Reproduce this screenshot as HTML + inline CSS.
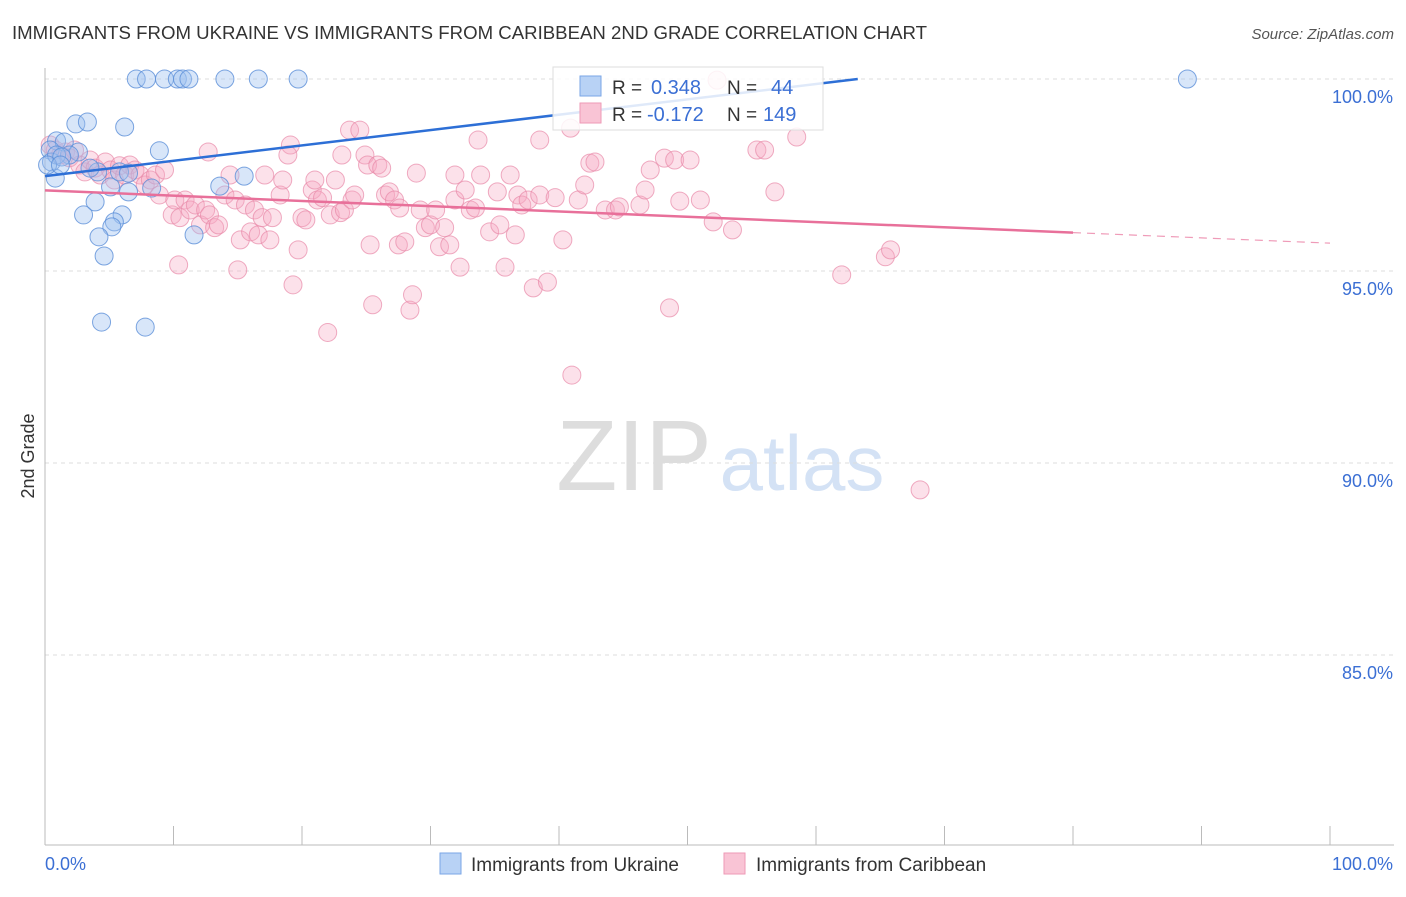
<!DOCTYPE html>
<html><head><meta charset="utf-8"><style>
body{margin:0;background:#fff;font-family:"Liberation Sans",sans-serif;}
svg text{font-family:"Liberation Sans",sans-serif;}
</style></head><body>
<svg width="1406" height="892" viewBox="0 0 1406 892" xmlns="http://www.w3.org/2000/svg" id="chart">
<text x="12" y="39" font-size="18" fill="#333" textLength="915" lengthAdjust="spacingAndGlyphs">IMMIGRANTS FROM UKRAINE VS IMMIGRANTS FROM CARIBBEAN 2ND GRADE CORRELATION CHART</text>
<text x="1394" y="39" font-size="15" fill="#555" text-anchor="end" font-style="italic">Source: ZipAtlas.com</text>
<text x="34" y="456" font-size="18" fill="#333" text-anchor="middle" transform="rotate(-90 34 456)">2nd Grade</text>
<g>
<text x="634" y="490" font-size="100" fill="#ddd" text-anchor="middle" font-family="Liberation Serif">ZIP</text>
<text x="802" y="490" font-size="78" fill="#d4e2f5" text-anchor="middle">atlas</text>
</g>
<g id="grid"></g><g id="axes"></g><g id="pts"></g><g id="lines"></g>
<g>
<rect x="553" y="67" width="270" height="63" fill="#fff" fill-opacity="0.85" stroke="#ddd"/>
<rect x="580" y="76" width="21" height="20" fill="#b8d2f5" stroke="#7aa6e6"/>
<rect x="580" y="103" width="21" height="20" fill="#f9c4d5" stroke="#ee9ab6"/>
<text x="612" y="94" font-size="19" fill="#333">R =</text>
<text x="651" y="94" font-size="20" fill="#3b6fd4">0.348</text>
<text x="727" y="94" font-size="19" fill="#333">N =</text>
<text x="771" y="94" font-size="20" fill="#3b6fd4">44</text>
<text x="612" y="121" font-size="19" fill="#333">R =</text>
<text x="647" y="121" font-size="20" fill="#3b6fd4">-0.172</text>
<text x="727" y="121" font-size="19" fill="#333">N =</text>
<text x="763" y="121" font-size="20" fill="#3b6fd4">149</text>
</g>
<g>
<rect x="440" y="853" width="21" height="21" fill="#b8d2f5" stroke="#7aa6e6"/>
<text x="471" y="871" font-size="19" fill="#333">Immigrants from Ukraine</text>
<rect x="724" y="853" width="21" height="21" fill="#f9c4d5" stroke="#ee9ab6"/>
<text x="756" y="871" font-size="19" fill="#333">Immigrants from Caribbean</text>
</g>
</svg>
<script>
const yTicks=[100,95,90,85];
const yTickLabels=["100.0%","95.0%","90.0%","85.0%"];
const xTickLabels=["0.0%","100.0%"];
const blueX=[7.1,7.9,9.3,10.3,10.7,11.2,14.0,16.6,19.7,88.9,2.4,3.3,6.2,0.9,1.5,0.4,2.6,8.9,1.9,0.5,0.8,4.1,5.1,8.3,13.6,15.5,6.5,3.9,3.0,6.0,5.4,5.2,4.2,11.6,4.6,4.4,7.8,0.9,1.3,0.2,5.8,6.5,3.5,1.2];
const blueY=[100,100,100,100,100,100,100,100,100,100,98.83,98.88,98.75,98.39,98.36,98.15,98.10,98.13,98.02,97.84,97.42,97.58,97.19,97.16,97.21,97.47,97.06,96.80,96.46,96.46,96.28,96.15,95.89,95.94,95.39,93.67,93.54,98.02,97.97,97.76,97.58,97.55,97.68,97.76];
const pinkX=[0.4,0.8,1.2,1.6,1.9,2.3,2.7,3.1,3.5,3.9,4.3,4.7,5.1,5.4,5.8,6.2,6.6,7.0,7.4,7.8,8.2,8.6,8.9,9.3,9.9,10.4,10.1,10.5,10.9,11.3,11.7,12.1,12.5,12.8,13.2,13.5,14.0,14.4,14.8,15.0,15.2,15.6,16.0,16.3,16.6,16.9,17.1,17.5,17.7,18.3,18.5,19.1,18.9,19.3,19.7,20.0,20.3,20.8,21.0,21.2,21.6,22.0,22.2,22.6,23.0,23.3,23.1,23.7,23.9,24.1,24.5,24.9,25.1,25.5,25.3,25.9,26.2,26.5,26.8,27.2,27.5,27.6,28.0,28.4,28.6,28.9,29.2,29.6,30.0,30.4,30.7,31.1,31.5,31.9,32.3,32.7,33.1,33.5,33.7,33.9,34.6,35.2,35.4,35.8,36.2,36.6,36.8,37.1,37.6,38.0,38.5,39.1,39.7,40.3,40.9,41.0,41.5,42.0,42.4,42.8,43.6,44.4,44.7,46.3,46.7,47.1,48.2,48.6,49.0,49.4,50.2,51.0,52.0,52.3,53.5,55.4,56.0,56.8,58.5,62.0,65.4,65.8,68.1,38.5,31.9,12.7];
const pinkY=[98.28,98.15,98.02,98.10,97.95,98.15,97.76,97.58,97.89,97.68,97.50,97.84,97.63,97.37,97.74,97.50,97.76,97.63,97.50,97.24,97.37,97.50,96.98,97.63,96.46,95.16,96.85,96.39,96.85,96.59,96.72,96.20,96.59,96.46,96.13,96.20,96.98,97.50,96.85,95.03,95.81,96.72,96.02,96.59,95.94,96.39,97.50,95.81,96.39,96.98,97.37,98.28,98.02,94.64,95.55,96.39,96.33,97.11,97.37,96.85,96.91,93.40,96.46,97.37,96.52,96.59,98.02,98.67,96.85,96.98,98.67,98.02,97.76,94.12,95.68,97.76,97.68,96.98,97.06,96.85,95.68,96.64,95.76,93.98,94.38,97.55,96.59,96.13,96.20,96.59,95.63,96.13,95.68,96.85,95.10,97.11,96.59,96.64,98.41,97.50,96.02,97.06,96.20,95.10,97.50,95.94,96.98,96.72,96.85,94.56,96.98,94.71,96.91,95.81,98.72,92.29,96.85,97.24,97.81,97.84,96.59,96.59,96.67,96.72,97.11,97.63,97.94,94.04,97.89,96.82,97.89,96.85,96.28,99.97,96.07,98.15,98.15,97.06,98.49,94.90,95.37,95.55,89.30,98.41,97.50,98.10];
const blueTrend=[97.47,0.04];
const pinkTrend=[97.1,-0.01375];
const X=v=>45+v*12.85, Y=v=>79+(100-v)*38.4;
const NS="http://www.w3.org/2000/svg";
function mk(t,a,p){const e=document.createElementNS(NS,t);for(const k in a)e.setAttribute(k,a[k]);p.appendChild(e);return e;}
const grid=document.getElementById('grid'),axes=document.getElementById('axes'),pts=document.getElementById('pts'),lines=document.getElementById('lines');
yTicks.forEach((t,i)=>{
 const g=mk('line',{x1:45,x2:1394,y1:Y(t),y2:Y(t),stroke:'#ddd','stroke-dasharray':'4 4'},grid);
 
 
 const tx=mk('text',{x:1393,y:Y(t)+24,'font-size':18,fill:'#3b6fd4','text-anchor':'end'},axes);
 tx.textContent=yTickLabels[i];
 
 
});
const ya=mk('line',{x1:45,x2:45,y1:68,y2:845,stroke:'#bbb'},axes);


const xa=mk('line',{x1:45,x2:1394,y1:845,y2:845,stroke:'#bbb'},axes);


for(let i=0;i<=10;i++){
 const tk=mk('line',{x1:X(i*10),x2:X(i*10),y1:826,y2:845,stroke:'#bbb'},axes);
 
 
}
const xl0=mk('text',{x:45,y:870,'font-size':18,fill:'#3b6fd4'},axes);xl0.textContent=xTickLabels[0];


const xl1=mk('text',{x:1393,y:870,'font-size':18,fill:'#3b6fd4','text-anchor':'end'},axes);xl1.textContent=xTickLabels[1];


pinkX.forEach((x,i)=>{
 const c=mk('circle',{cx:X(x),cy:Y(pinkY[i]),r:9,fill:'#f6a9c2','fill-opacity':0.35,stroke:'#e889a8','stroke-opacity':0.7},pts);
 
 
});
blueX.forEach((x,i)=>{
 const c=mk('circle',{cx:X(x),cy:Y(blueY[i]),r:9,fill:'#9dc0ef','fill-opacity':0.4,stroke:'#5b8fd8','stroke-opacity':0.8},pts);
 
 
});
const bEnd=Math.min(100,(100-blueTrend[0])/blueTrend[1]);
const bl=mk('line',{x1:X(0),y1:Y(blueTrend[0]),x2:X(bEnd),y2:Y(blueTrend[0]+blueTrend[1]*bEnd),stroke:'#2d6fd6','stroke-width':2.5},lines);


const pl=mk('line',{x1:X(0),y1:Y(pinkTrend[0]),x2:X(80),y2:Y(pinkTrend[0]+pinkTrend[1]*80),stroke:'#e8709a','stroke-width':2.5},lines);


const pd=mk('line',{x1:X(80),y1:Y(pinkTrend[0]+pinkTrend[1]*80),x2:X(100),y2:Y(pinkTrend[0]+pinkTrend[1]*100),stroke:'#e8709a','stroke-width':1.2,'stroke-dasharray':'8 6','stroke-opacity':0.7},lines);


</script>
</body></html>
